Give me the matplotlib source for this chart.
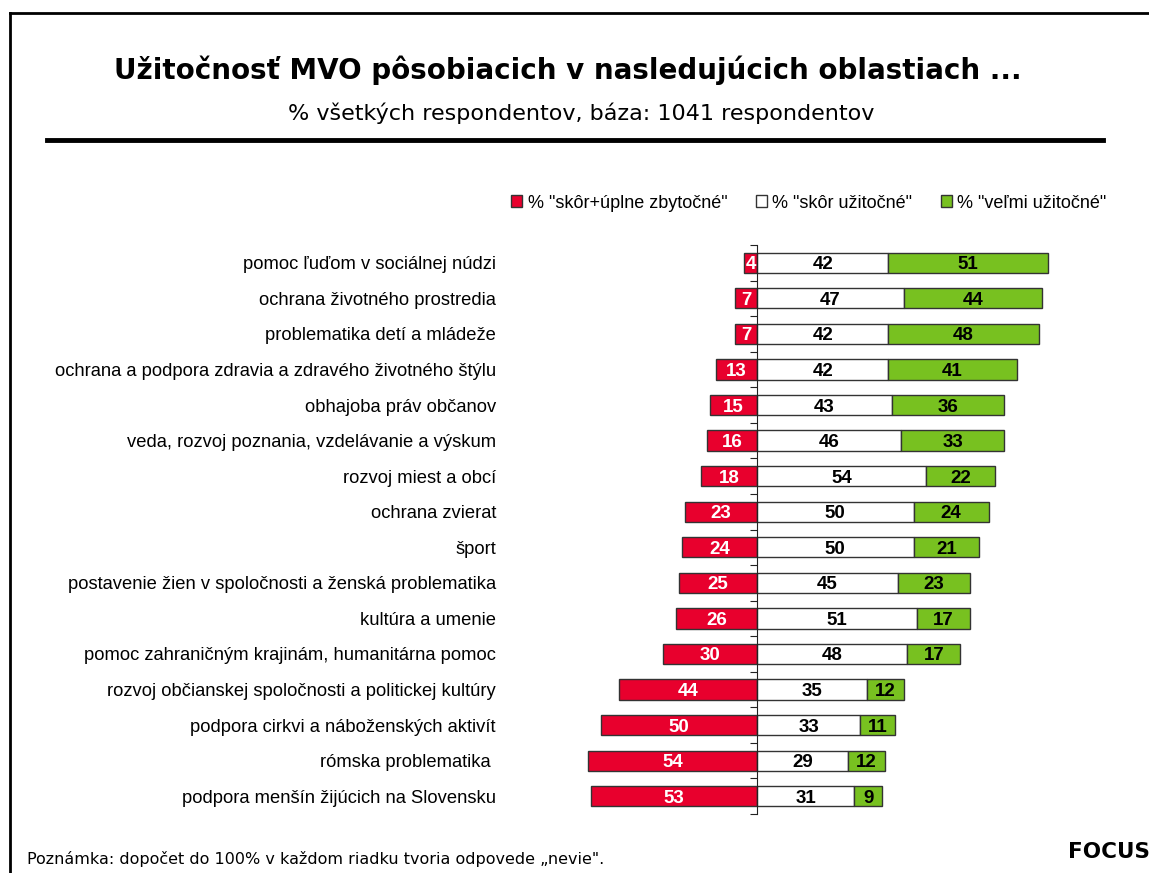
import matplotlib
matplotlib.use("Agg")
import matplotlib.pyplot as plt
from matplotlib.lines import Line2D
from matplotlib.patches import Patch
import matplotlib.transforms as mtransforms

categories = [
    "pomoc ľuďom v sociálnej núdzi",
    "ochrana životného prostredia",
    "problematika detí a mládeže",
    "ochrana a podpora zdravia a zdravého životného štýlu",
    "obhajoba práv občanov",
    "veda, rozvoj poznania, vzdelávanie a výskum",
    "rozvoj miest a obcí",
    "ochrana zvierat",
    "šport",
    "postavenie žien v spoločnosti a ženská problematika",
    "kultúra a umenie",
    "pomoc zahraničným krajinám, humanitárna pomoc",
    "rozvoj občianskej spoločnosti a politickej kultúry",
    "podpora cirkvi a náboženských aktivít",
    "rómska problematika ",
    "podpora menšín žijúcich na Slovensku",
]
useless = [4, 7, 7, 13, 15, 16, 18, 23, 24, 25, 26, 30, 44, 50, 54, 53]
rather_useful = [42, 47, 42, 42, 43, 46, 54, 50, 50, 45, 51, 48, 35, 33, 29, 31]
very_useful = [51, 44, 48, 41, 36, 33, 22, 24, 21, 23, 17, 17, 12, 11, 12, 9]
series_names = ['% "skôr+úplne zbytočné"', '% "skôr užitočné"', '% "veľmi užitočné"']

RED = "#E8002D"
GREEN = "#78C120"
EDGE = "#333333"

W, H = 1149, 873
fig = plt.figure(figsize=(W / 100, H / 100), dpi=100)

# frame lines (left and top)
fig.add_artist(Line2D([10 / W, 10 / W], [0, 1 - 13 / H], transform=fig.transFigure, color="black", lw=2))
fig.add_artist(Line2D([10 / W, 1], [1 - 13 / H, 1 - 13 / H], transform=fig.transFigure, color="black", lw=2))

# title
fig.text(568 / W, 1 - 70 / H, "Užitočnosť MVO pôsobiacich v nasledujúcich oblastiach ...",
         ha="center", va="center", fontsize=20, fontweight="bold", family="DejaVu Sans")
fig.text(581 / W, 1 - 113 / H, "% všetkých respondentov, báza: 1041 respondentov",
         ha="center", va="center", fontsize=16, family="DejaVu Sans")
fig.add_artist(Line2D([47 / W, 1103 / W], [1 - 140 / H, 1 - 140 / H], transform=fig.transFigure,
                      color="black", lw=3.5))

# axes
x0_px, px_per = 757, 3.13
xmin, xmax = -60, 100
left_px = x0_px + xmin * px_per
width_px = (xmax - xmin) * px_per
top_px, bot_px = 245, 814
ax = fig.add_axes([left_px / W, 1 - bot_px / H, width_px / W, (bot_px - top_px) / H])
ax.set_xlim(xmin, xmax)
n = len(categories)
ax.set_ylim(n - 0.5, -0.5)

ypos = list(range(n))
bh = 0.57
neg = [-v for v in useless]
ax.barh(ypos, neg, height=bh, color=RED, edgecolor=EDGE, linewidth=1, zorder=2)
ax.barh(ypos, rather_useful, height=bh, color="white", edgecolor=EDGE, linewidth=1, zorder=2)
ax.barh(ypos, very_useful, left=rather_useful, height=bh, color=GREEN, edgecolor=EDGE, linewidth=1, zorder=2)

vfs = 13.5
for i in range(n):
    ax.text(-useless[i] / 2, i, str(useless[i]), ha="center", va="center_baseline", color="white",
            fontsize=vfs, fontweight="bold", family="Liberation Sans", zorder=3)
    ax.text(rather_useful[i] / 2, i, str(rather_useful[i]), ha="center", va="center_baseline",
            color="black", fontsize=vfs, fontweight="bold", family="Liberation Sans", zorder=3)
    ax.text(rather_useful[i] + very_useful[i] / 2, i, str(very_useful[i]), ha="center",
            va="center_baseline", color="black", fontsize=vfs, fontweight="bold",
            family="Liberation Sans", zorder=3)

for s in ["top", "right", "bottom"]:
    ax.spines[s].set_visible(False)
ax.spines["left"].set_position(("data", 0))
ax.spines["left"].set_color("#222222")
ax.spines["left"].set_zorder(4)
ax.set_yticks([i - 0.5 for i in range(n + 1)])
ax.set_yticklabels([])
ax.tick_params(axis="y", direction="out", length=5, color="#222222")
ax.set_xticks([])
ax.patch.set_visible(False)

trans = mtransforms.blended_transform_factory(fig.transFigure, ax.transData)
for i, c in enumerate(categories):
    ax.text(496 / W, i, c, transform=trans, ha="right", va="center_baseline", fontsize=13.2,
            family="Liberation Sans", clip_on=False)

# legend
handles = [Patch(facecolor=RED, edgecolor=EDGE), Patch(facecolor="white", edgecolor=EDGE),
           Patch(facecolor=GREEN, edgecolor=EDGE)]
fig.legend(handles, series_names, loc="center", bbox_to_anchor=(809 / W, 1 - 203 / H),
           ncol=3, frameon=False, prop={"family": "Liberation Sans", "size": 13},
           handlelength=0.6, handleheight=0.6, handletextpad=0.3, columnspacing=1.6)

# footnotes
fig.text(27 / W, 1 - 859 / H, "Poznámka: dopočet do 100% v každom riadku tvoria odpovede „nevie\".",
         ha="left", va="center", fontsize=11.5, family="DejaVu Sans")
fig.text(1150 / W, 1 - 852 / H, "FOCUS", ha="right", va="center", fontsize=15.5, fontweight="bold",
         family="DejaVu Sans")

fig.savefig("out.png", dpi=100)
